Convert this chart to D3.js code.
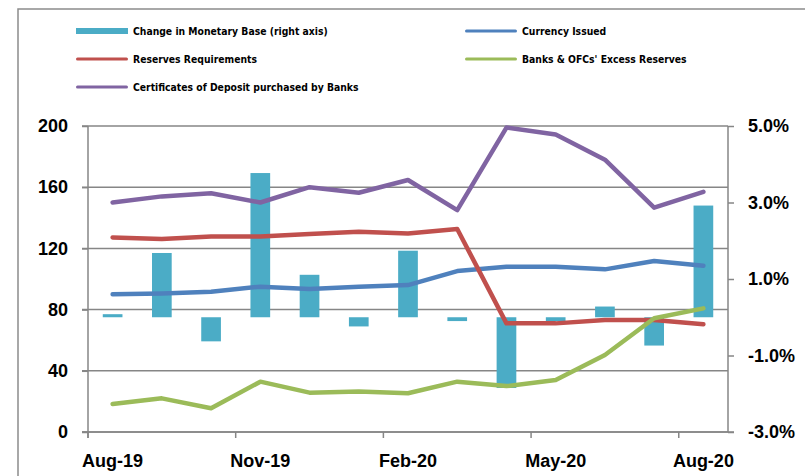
<!DOCTYPE html>
<html>
<head>
<meta charset="utf-8">
<script src="https://cdn.jsdelivr.net/npm/d3@7"></script>
<style>
  body { margin: 0; background: #fff; }
  svg { display: block; }
</style>
</head>
<body>
<div id="chart"></div>
<script>
// data
const months = ["Aug-19", "Sep-19", "Oct-19", "Nov-19", "Dec-19", "Jan-20", "Feb-20",
  "Mar-20", "Apr-20", "May-20", "Jun-20", "Jul-20", "Aug-20"];
const monetaryBaseChange = [0.08, 1.68, -0.63, 3.77, 1.11, -0.24, 1.74, -0.1, -1.85, -0.1, 0.28, -0.74, 2.92];
const currencyIssued = [90, 90.6, 91.7, 95, 93.5, 95, 96, 105.2, 108, 108, 106.3, 111.8, 108.7];
const reserveRequirements = [127.2, 126.1, 127.7, 127.7, 129.4, 130.9, 129.8, 132.7, 71, 71, 73.2, 73.2, 70.4];
const excessReserves = [18.3, 22, 15.5, 32.9, 25.7, 26.4, 25.3, 32.9, 30, 34, 50.3, 74.3, 80.8];
const cdsPurchased = [150, 154, 156, 150, 160, 156.4, 164.7, 145, 199, 194.5, 178, 146.6, 157];

const xTickLabels = ["Aug-19", "Nov-19", "Feb-20", "May-20", "Aug-20"];
const leftTicks = [0, 40, 80, 120, 160, 200];
const rightTicks = [-3, -1, 1, 3, 5];

const width = 805,
  height = 476,
  plot = { left: 88, right: 728, top: 126, bottom: 432 },
  gridColor = "#868686",
  axisFont = "'Liberation Sans', Arial, sans-serif",
  legendFont = "'Liberation Sans Narrow', 'DejaVu Sans Condensed', sans-serif";

const series = [
  { name: "Currency Issued", values: currencyIssued, color: "#4F81BD" },
  { name: "Reserves Requirements", values: reserveRequirements, color: "#C0504D" },
  { name: "Banks & OFCs' Excess Reserves", values: excessReserves, color: "#9BBB59" },
  { name: "Certificates of Deposit purchased by Banks", values: cdsPurchased, color: "#8064A2" }
];
const barColor = "#4BACC6";

const svg = d3.select("#chart").
append("svg").
attr("width", width).
attr("height", height);

// outer chart frame
svg.append("rect").
attr("x", 18).
attr("y", 9).
attr("width", width).
attr("height", height).
attr("fill", "none").
attr("stroke", "#8c8c8c").
attr("stroke-width", 1.5);

const xScale = d3.scaleBand().
domain(months).
range([plot.left, plot.right]).
padding(0);

const yLeft = d3.scaleLinear().
domain([0, 200]).
range([plot.bottom, plot.top]);

const yRight = d3.scaleLinear().
domain([-3, 5]).
range([plot.bottom, plot.top]);

const cx = m => xScale(m) + xScale.bandwidth() / 2;

// gridlines
svg.append("g").
selectAll("line").
data(leftTicks).
enter().
append("line").
attr("x1", plot.left - 6).
attr("x2", plot.right).
attr("y1", d => yLeft(d)).
attr("y2", d => yLeft(d)).
attr("stroke", gridColor).
attr("stroke-width", 1.5);

// bars (right axis)
const barW = xScale.bandwidth() * 0.4;
svg.append("g").
selectAll("rect").
data(months).
enter().
append("rect").
attr("x", d => cx(d) - barW / 2).
attr("width", barW).
attr("y", (d, i) => yRight(Math.max(0, monetaryBaseChange[i]))).
attr("height", (d, i) => Math.abs(yRight(monetaryBaseChange[i]) - yRight(0))).
attr("fill", barColor);

// lines
const line = d3.line().
x((d, i) => cx(months[i])).
y(d => yLeft(d));

svg.append("g").
selectAll("path").
data(series).
enter().
append("path").
attr("d", d => line(d.values)).
attr("fill", "none").
attr("stroke", d => d.color).
attr("stroke-width", 4.5).
attr("stroke-linejoin", "round").
attr("stroke-linecap", "round");

// left axis
const leftAxis = svg.append("g").
attr("transform", `translate(${plot.left},0)`).
call(d3.axisLeft(yLeft).tickValues(leftTicks).tickSize(6).tickPadding(14));

// right axis
const rightAxis = svg.append("g").
attr("transform", `translate(${plot.right},0)`).
call(d3.axisRight(yRight).tickValues(rightTicks).tickSize(6).tickPadding(14).
tickFormat(d => d.toFixed(1) + "%"));

// bottom axis: labels at band centres, ticks at band edges
const bottomAxis = svg.append("g").
attr("transform", `translate(0,${plot.bottom})`).
call(d3.axisBottom(xScale).tickValues(xTickLabels).tickSize(0).tickPadding(22));

bottomAxis.selectAll(".tickmark").
data(xTickLabels).
enter().
append("line").
attr("class", "tickmark").
attr("x1", d => xScale(d)).
attr("x2", d => xScale(d)).
attr("y1", 0).
attr("y2", 6).
attr("stroke", gridColor).
attr("stroke-width", 1.5);

[leftAxis, rightAxis, bottomAxis].forEach(ax => {
  ax.select(".domain").attr("stroke", gridColor).attr("stroke-width", 1.5);
  ax.selectAll(".tick line").attr("stroke", gridColor).attr("stroke-width", 1.5);
  ax.selectAll("text").
  attr("fill", "#000").
  style("font-family", axisFont).
  style("font-weight", "bold").
  style("font-size", "18px");
});
bottomAxis.select(".domain").attr("d", `M${plot.left - 6},0H${plot.right + 6}`);
leftAxis.select(".domain").attr("d", `M0,${plot.top}V${plot.bottom + 6}`);
rightAxis.select(".domain").attr("d", `M0,${plot.top}V${plot.bottom}`);

//legend
const legendItems = [
  { name: "Change in Monetary Base (right axis)", color: barColor, bar: true, col: 0, row: 0 },
  { name: series[0].name, color: series[0].color, col: 1, row: 0 },
  { name: series[1].name, color: series[1].color, col: 0, row: 1 },
  { name: series[2].name, color: series[2].color, col: 1, row: 1 },
  { name: series[3].name, color: series[3].color, col: 0, row: 2 }
];
const legendCols = [76, 465];

const legend = svg.append("g").
selectAll("g").
data(legendItems).
enter().
append("g").
attr("transform", d => `translate(${legendCols[d.col]},${31 + d.row * 28})`);

legend.append("rect").
attr("x", 0).
attr("y", d => d.bar ? -3 : -1.5).
attr("width", 52).
attr("height", d => d.bar ? 6 : 3).
attr("rx", d => d.bar ? 0 : 1.5).
attr("fill", d => d.color);

legend.append("text").
attr("x", 57).
attr("y", 0).
attr("dy", "0.35em").
style("font-family", legendFont).
style("font-weight", "bold").
style("font-size", "10.3px").
text(d => d.name);
</script>
</body>
</html>
